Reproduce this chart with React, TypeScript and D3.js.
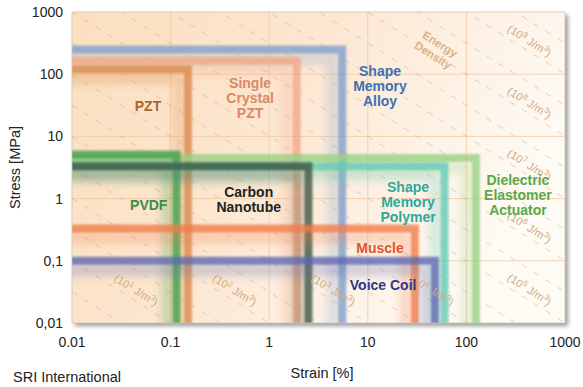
import * as d3 from 'd3';

const STRAIN_TICKS = [0.01, 0.1, 1, 10, 100, 1000];
const STRAIN_TICK_LABELS = ['0.01', '0.1', '1', '10', '100', '1000'];
const STRESS_TICKS = [0.01, 0.1, 1, 10, 100, 1000];
const STRESS_TICK_LABELS = ['0,01', '0,1', '1', '10', '100', '1000'];

// actuator envelopes: max strain [%], max stress [MPa]
const MATERIALS = ['Shape Memory Alloy', 'Single Crystal PZT', 'PZT', 'Dielectric Elastomer Actuator', 'PVDF', 'Shape Memory Polymer', 'Carbon Nanotube', 'Muscle', 'Voice Coil'];
const MAX_STRAIN = [5.5, 1.9, 0.15, 125, 0.115, 60, 2.5, 30, 48];
const MAX_STRESS = [250, 165, 120, 4.5, 5.1, 3.3, 3.3, 0.33, 0.1];
// label anchors in data space (strain, stress)
const LABEL_STRAIN = [13.3, 0.64, 0.059, 333, 0.06, 25.6, 0.62, 13.3, 14.3];
const LABEL_STRESS = [64.6, 41.4, 30.8, 1.14, 0.79, 0.88, 0.95, 0.16, 0.041];

// energy density labels (10^n J/m^3)
const ENERGY_EXP = [1, 2, 3, 4, 5, 6, 7, 8, 9];

const BAND = {
  'Shape Memory Alloy': { band: '#7f9fce', text: '#3f70b0' },
  'Single Crystal PZT': { band: '#f2a888', text: '#d98866' },
  'PZT': { band: '#d98a4c', text: '#a8672f' },
  'Dielectric Elastomer Actuator': { band: '#98d283', text: '#5aa845' },
  'PVDF': { band: '#43a04e', text: '#3a8f44' },
  'Shape Memory Polymer': { band: '#62cbb5', text: '#2ea898' },
  'Carbon Nanotube': { band: '#3c5543', text: '#222222' },
  'Muscle': { band: '#f27c48', text: '#e0552a' },
  'Voice Coil': { band: '#5b68b2', text: '#2b3a88' },
} as Record<string, { band: string; text: string }>;

const W = 583;
const H = 387;
const margin = { left: 72, top: 12, right: 18, bottom: 64 };
const FONT = '"Liberation Sans", Arial, sans-serif';

export default function App() {
  const x = d3.scaleLog().domain([0.01, 1000]).range([margin.left, W - margin.right]);
  const y = d3.scaleLog().domain([0.01, 1000]).range([H - margin.bottom, margin.top]);
  const [x0, x1] = x.range();
  const [y0, y1] = [y(0.01), y(1000)];
  const pw = x1 - x0;
  const ph = y0 - y1;
  const angle = (Math.atan((y(1) - y(10)) / (x(10) - x(1))) * 180) / Math.PI;

  // energy lines: log10(strain) + log10(stress) = logE - 4
  const lines = d3.range(1, 20).map((k) => k / 2);
  const linePath = (logE: number) => {
    const c = logE - 4;
    const ua = -2, ub = 3;
    return `M${x(10 ** ua)},${y(10 ** (c - ua))}L${x(10 ** ub)},${y(10 ** (c - ub))}`;
  };
  const energyPos = (n: number) => {
    const c = n - 4 + 0.18;
    if (n <= 4) {
      const v = -1.47;
      return [x(10 ** (c - v)), y(10 ** v)];
    }
    const u = 2.64;
    return [x(10 ** u), y(10 ** (c - u))];
  };

  return (
    <div style={{ position: 'absolute', left: 0, top: 0 }}>
      <svg width={W} height={H} style={{ display: 'block', background: '#fff' }} fontFamily={FONT}>
        <defs>
          <linearGradient id="bg" x1="0" y1="0" x2="1" y2="0.35">
            <stop offset="0%" stopColor="#fbdfbf" />
            <stop offset="45%" stopColor="#fce6cf" />
            <stop offset="75%" stopColor="#fdf1e4" />
            <stop offset="100%" stopColor="#fefaf4" />
          </linearGradient>
          <filter id="shadow" x="-5%" y="-5%" width="115%" height="115%">
            <feGaussianBlur stdDeviation="2" />
          </filter>
          <filter id="soft" x="-10%" y="-10%" width="120%" height="120%">
            <feGaussianBlur stdDeviation="1.3" />
          </filter>
          <filter id="glow" x="-10%" y="-10%" width="120%" height="120%">
            <feGaussianBlur stdDeviation="4" />
          </filter>
          <clipPath id="plot">
            <rect x={x0} y={y1} width={pw} height={ph} />
          </clipPath>
        </defs>

        {/* frame + shadow */}
        <rect x={x0 + 3} y={y1 + 3} width={pw} height={ph} fill="#9a9a9a" filter="url(#shadow)" />
        <rect x={x0} y={y1} width={pw} height={ph} fill="url(#bg)" />

        <g clipPath="url(#plot)">
          {/* decade grid */}
          {STRAIN_TICKS.slice(1, -1).map((t) => (
            <line key={'gx' + t} x1={x(t)} x2={x(t)} y1={y1} y2={y0} stroke="#f1c69c" strokeWidth={1} opacity={0.75} />
          ))}
          {STRESS_TICKS.slice(1, -1).map((t) => (
            <line key={'gy' + t} x1={x0} x2={x1} y1={y(t)} y2={y(t)} stroke="#f1c69c" strokeWidth={1} opacity={0.75} />
          ))}

          {/* energy density diagonals */}
          {lines.map((e) => (
            <path key={'e' + e} d={linePath(e)} stroke="#c9ad92" strokeWidth={1} strokeDasharray="6 8" fill="none" opacity={0.55} />
          ))}

          {/* actuator envelopes */}
          {MATERIALS.map((m, i) => {
            const bx = x(MAX_STRAIN[i]);
            const by = y(MAX_STRESS[i]);
            const c = BAND[m].band;
            return (
              <g key={m}>
                <path d={`M${x0 - 10},${by + 9}H${bx - 9}V${y0 + 10}`} stroke={c} strokeWidth={12} fill="none" opacity={0.28} filter="url(#glow)" />
                <path d={`M${x0 - 10},${by}H${bx}V${y0 + 10}`} stroke={c} strokeWidth={8} fill="none" opacity={0.78} filter="url(#soft)" />
              </g>
            );
          })}
        </g>
        <rect x={x0} y={y1} width={pw} height={ph} fill="none" stroke="#cfc6bc" strokeWidth={0.8} />

        {/* energy density labels */}
        {ENERGY_EXP.map((n) => {
          const [ex, ey] = energyPos(n);
          return (
            <text key={'el' + n} transform={`translate(${ex},${ey}) rotate(${angle})`} textAnchor="middle" dy={4}
              fontSize={11} fill="#d3a97f">
              (10<tspan fontSize={8} dy={-4}>{n}</tspan><tspan dy={4}> J/m</tspan><tspan fontSize={8} dy={-4}>3</tspan><tspan dy={4}>)</tspan>
            </text>
          );
        })}
        <text transform={`translate(${x(10 ** 1.7)},${y(10 ** 2.4)}) rotate(${angle})`} textAnchor="middle" fontSize={11.5}
          fontWeight="bold" fill="#dcb188">
          <tspan x={0} dy={-2}>Energy</tspan>
          <tspan x={0} dy={13}>Density</tspan>
        </text>

        {/* material labels */}
        {MATERIALS.map((m, i) => {
          const words = m === 'Carbon Nanotube' ? ['Carbon', 'Nanotube'] : m === 'Voice Coil' ? ['Voice Coil'] : m.split(' ');
          const cx = x(LABEL_STRAIN[i]);
          const cy = y(LABEL_STRESS[i]);
          return (
            <text key={'l' + m} textAnchor="middle" fontSize={14} fontWeight="bold" fill={BAND[m].text}>
              {words.map((w, j) => (
                <tspan key={j} x={cx} y={cy + (j - (words.length - 1) / 2) * 15 + 5}>{w}</tspan>
              ))}
            </text>
          );
        })}

        {/* axes labels */}
        {STRAIN_TICKS.map((t, i) => (
          <text key={'tx' + t} x={x(t)} y={y0 + 24} textAnchor="middle" fontSize={14} fill="#222">{STRAIN_TICK_LABELS[i]}</text>
        ))}
        {STRESS_TICKS.map((t, i) => (
          <text key={'ty' + t} x={x0 - 9} y={y(t) + 5} textAnchor="end" fontSize={14} fill="#222">{STRESS_TICK_LABELS[i]}</text>
        ))}
        <text transform={`translate(20,${(y0 + y1) / 2}) rotate(-90)`} textAnchor="middle" fontSize={14.5} fill="#222">Stress [MPa]</text>
        <text x={322} y={378} textAnchor="middle" fontSize={14.5} fill="#222">Strain [%]</text>
        <text x={13} y={382} fontSize={14.5} fill="#222">SRI International</text>
      </svg>
    </div>
  );
}
